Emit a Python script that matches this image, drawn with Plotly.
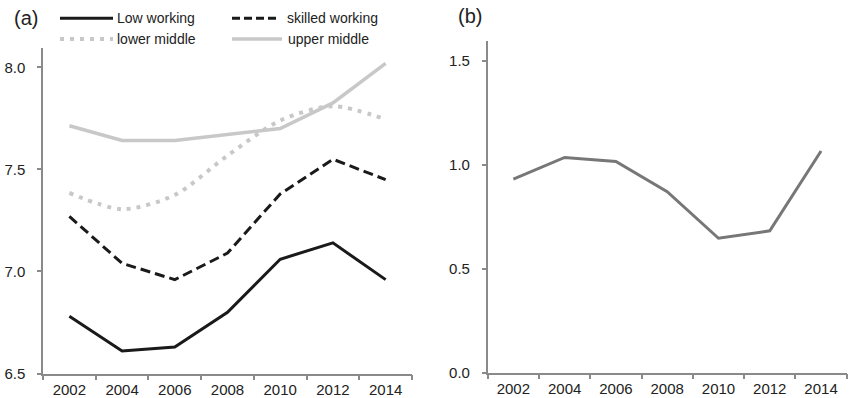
import plotly.graph_objects as go

years = ["2002", "2004", "2006", "2008", "2010", "2012", "2014"]
low_working = [6.78, 6.61, 6.63, 6.80, 7.06, 7.14, 6.96]
skilled_working = [7.27, 7.04, 6.96, 7.09, 7.38, 7.55, 7.45]
lower_middle = [7.385, 7.305, 7.375, 7.568, 7.74, 7.81, 7.745]
upper_middle = [7.714, 7.642, 7.642, 7.67, 7.70, 7.826, 8.02]
panel_b = [0.932, 1.036, 1.017, 0.871, 0.647, 0.683, 1.067]

left_ticks = [6.5, 7.0, 7.5, 8.0]
right_ticks = [0.0, 0.5, 1.0, 1.5]

W, H = 852, 398
FONT = "Liberation Sans, Arial, sans-serif"
AXC = "#8a8a8a"

fig = go.Figure()
fig.add_trace(go.Scatter(x=years, y=upper_middle, mode="lines", name="upper middle",
                         line=dict(color="#c8c8c8", width=3.5), xaxis="x", yaxis="y"))
fig.add_trace(go.Scatter(x=years, y=lower_middle, mode="lines", name="lower middle",
                         line=dict(color="#c8c8c8", width=4, dash="4px,6px", shape="spline", smoothing=0.8),
                         xaxis="x", yaxis="y"))
fig.add_trace(go.Scatter(x=years, y=skilled_working, mode="lines", name="skilled working",
                         line=dict(color="#1a1a1a", width=3, dash="10px,5px"), xaxis="x", yaxis="y"))
fig.add_trace(go.Scatter(x=years, y=low_working, mode="lines", name="Low working",
                         line=dict(color="#1a1a1a", width=3), xaxis="x", yaxis="y"))
fig.add_trace(go.Scatter(x=years, y=panel_b, mode="lines", name="b",
                         line=dict(color="#777777", width=3), xaxis="x2", yaxis="y2"))

def px_x(p):
    return p / W

def px_y(p):
    return 1 - p / H

xcommon = dict(type="category", range=[-0.5, 6.5], showline=True, linecolor=AXC, linewidth=1.5,
               ticks="outside", ticklen=5, tickcolor=AXC, tickwidth=1.5, tickson="boundaries",
               showgrid=False, zeroline=False, ticklabelstandoff=2,
               tickfont=dict(family=FONT, size=15, color="#222"))
ycommon = dict(showline=True, linecolor=AXC, linewidth=1.5, ticks="outside", ticklen=4,
               tickcolor=AXC, tickwidth=1.5, showgrid=False, zeroline=False, ticklabelstandoff=9,
               tickfont=dict(family=FONT, size=15, color="#222"), tickformat=".1f")

fig.update_layout(
    width=W, height=H, autosize=False, margin=dict(l=0, r=0, t=0, b=0, autoexpand=False),
    paper_bgcolor="white", plot_bgcolor="white", showlegend=False,
    xaxis=dict(domain=[px_x(43), px_x(412)], anchor="y", **xcommon),
    yaxis=dict(domain=[px_y(373.5), px_y(48)], anchor="x", range=[6.5, 8.095],
               tickvals=left_ticks, **ycommon),
    xaxis2=dict(domain=[px_x(487.7), px_x(846.7)], anchor="y2", **xcommon),
    yaxis2=dict(domain=[px_y(372.7), px_y(40.7)], anchor="x2", range=[0, 1.598],
                tickvals=right_ticks, **ycommon),
)

# panel labels
fig.add_annotation(x=px_x(26), y=px_y(18), xref="paper", yref="paper", text="(a)", showarrow=False,
                   xanchor="center", yanchor="middle",
                   font=dict(family=FONT, size=20, color="#222"))
fig.add_annotation(x=px_x(470), y=px_y(16), xref="paper", yref="paper", text="(b)", showarrow=False,
                   xanchor="center", yanchor="middle",
                   font=dict(family=FONT, size=20, color="#222"))

# legend
legend_items = [
    ("Low working", 60, 113, 18.3, dict(color="#1a1a1a", width=3), 115),
    ("skilled working", 232, 279, 18.3, dict(color="#1a1a1a", width=3, dash="8px,4px"), 285),
    ("lower middle", 60, 113, 39, dict(color="#c8c8c8", width=4, dash="4px,6px"), 115),
    ("upper middle", 232, 282, 39, dict(color="#c8c8c8", width=3.5), 286),
]
for label, x0, x1, yy, ln, tx in legend_items:
    fig.add_shape(type="line", xref="paper", yref="paper", x0=px_x(x0), x1=px_x(x1),
                  y0=px_y(yy), y1=px_y(yy), line=ln)
    fig.add_annotation(x=px_x(tx), y=px_y(yy), xref="paper", yref="paper", text=label,
                       showarrow=False, xanchor="left", yanchor="middle",
                       font=dict(family=FONT, size=14, color="#222"))

fig.write_html("out.html")
